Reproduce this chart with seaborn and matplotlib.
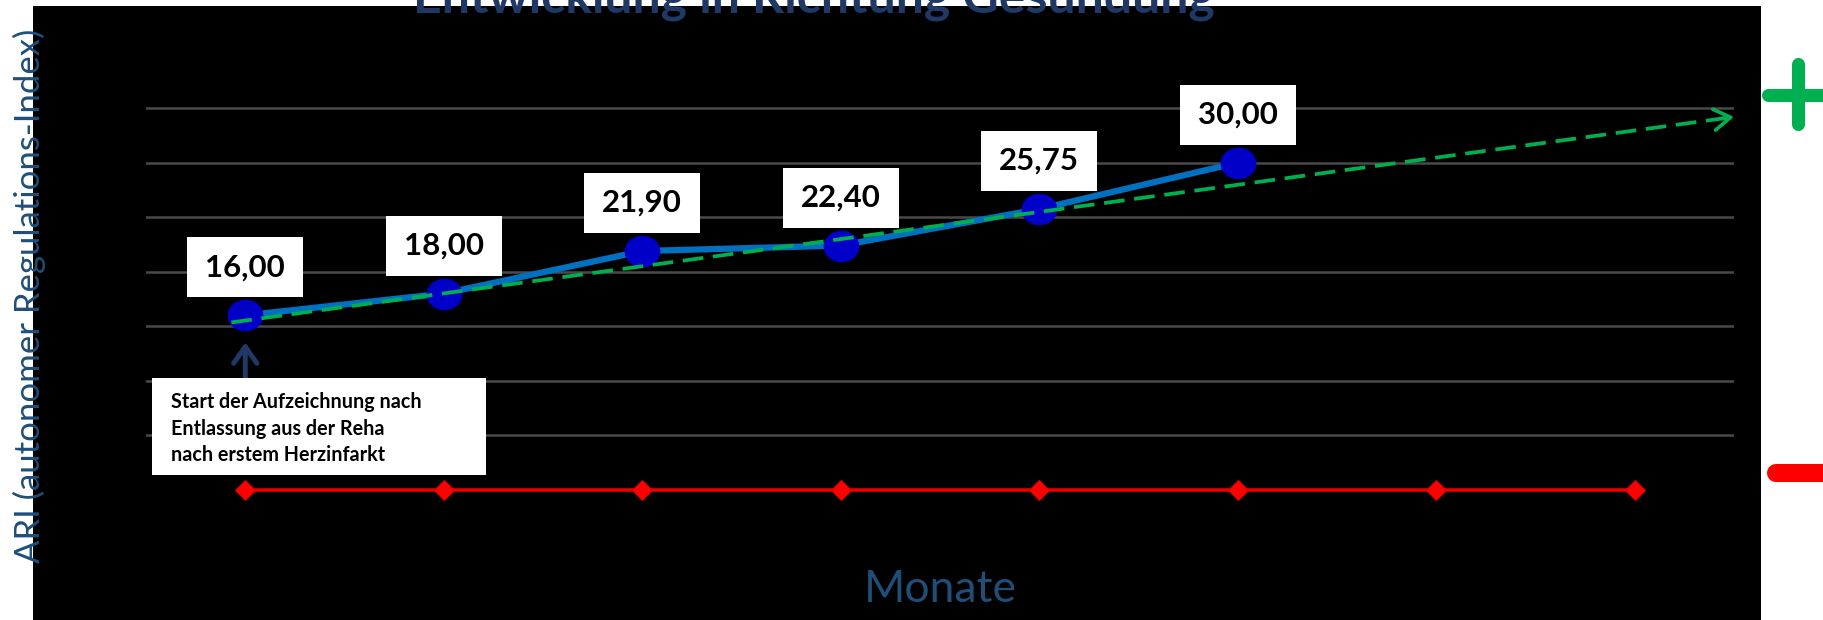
import matplotlib
matplotlib.use("Agg")
import matplotlib.pyplot as plt
import numpy as np
import seaborn as sns
from matplotlib.path import Path
from matplotlib.patches import Rectangle
from matplotlib.lines import Line2D

# ARI readings per month after discharge
months = [0, 1, 2, 3, 4, 5]
ari = [16.00, 18.00, 21.90, 22.40, 25.75, 30.00]
ari_labels = ["16,00", "18,00", "21,90", "22,40", "25,75", "30,00"]

# baseline series across the whole observation period
base_months = [0, 1, 2, 3, 4, 5, 6, 7]
base_values = [0, 0, 0, 0, 0, 0, 0, 0]

# end points of the trend arrow
trend_months = [-0.07, 7.5]
trend_values = [15.35, 34.2]

grid_ticks = [5, 10, 15, 20, 25, 30, 35]

title = "Entwicklung in Richtung Gesundung"
ylabel = "ARI (autonomer Regulations-Index)"
xlabel = "Monate"
note = "Start der Aufzeichnung nach\nEntlassung aus der Reha\nnach erstem Herzinfarkt"

W, H, DPI = 1824, 620, 100
NAVY = "#1F3864"
LABEL_BLUE = "#1F4E79"
GREEN = "#00B050"
RED = "#FF0000"

sns.set_theme(style="dark", rc={"axes.facecolor": "black"})
plt.rcParams["font.family"] = ["Lato", "DejaVu Sans"]


def fx(px):
    return px / W


def fy(py):
    return 1 - py / H


fig = plt.figure(figsize=(W / DPI, H / DPI), dpi=DPI, facecolor="white")

# black chart area
fig.add_artist(Rectangle((fx(33), 0), fx(1761) - fx(33), fy(6),
                         transform=fig.transFigure, facecolor="black",
                         edgecolor="none", zorder=-5))

ax = fig.add_axes([fx(146), 0, fx(1734) - fx(146), fy(6)])
ax.set_facecolor("black")

# slightly flattened round marker
t = np.linspace(0, 2 * np.pi, 60)
ellipse = Path(np.column_stack([np.cos(t), 0.88 * np.sin(t)]), closed=True)

# baseline
sns.lineplot(x=base_months, y=base_values, ax=ax, color="#E60000",
             linewidth=2.6, marker="D", markersize=10.5,
             markerfacecolor=RED, markeredgecolor="#E00000", zorder=3)

# ARI series
sns.lineplot(x=months, y=ari, ax=ax, color="#0070C0", linewidth=4.5,
             marker=ellipse, markersize=25, markerfacecolor="#0000C8",
             markeredgecolor="#0000C8", zorder=4)

# dashed trend with open arrow head
ax.plot(trend_months, trend_values, color=GREEN, linewidth=2.7,
        dashes=(5.5, 2.6), zorder=5)
slope = (trend_values[1] - trend_values[0]) / (trend_months[1] - trend_months[0])
ax.annotate("", xy=(trend_months[1], trend_values[1]),
            xytext=(trend_months[1] - 0.06, trend_values[1] - 0.06 * slope),
            arrowprops=dict(arrowstyle="->,head_length=0.6,head_width=0.38",
                            color=GREEN, lw=2.6, shrinkA=0, shrinkB=0,
                            mutation_scale=20), zorder=5)


# fixed-size white label box centred on the text
def label_box(x0, y0, width, height, mutation_size):
    cx, cy = x0 + width / 2, y0 + height / 2
    w, h = 116, 60
    return Path([(cx - w / 2, cy - h / 2), (cx + w / 2, cy - h / 2),
                 (cx + w / 2, cy + h / 2), (cx - w / 2, cy + h / 2),
                 (cx - w / 2, cy - h / 2)], closed=True)


for m, v, s in zip(months, ari, ari_labels):
    ax.annotate(s, xy=(m, v), xytext=(0, 48), textcoords="offset pixels",
                ha="center", va="center", fontsize=22.5, fontweight="bold",
                color="black", zorder=6,
                bbox=dict(boxstyle=label_box, fc="white", ec="none"))

# note on the first reading
ax.annotate("", xy=(months[0], ari[0]), xytext=(0, -69),
            textcoords="offset pixels",
            arrowprops=dict(arrowstyle="->,head_length=0.6,head_width=0.42",
                            color=NAVY, lw=3.6, shrinkA=0, shrinkB=19.4,
                            mutation_scale=20), zorder=7)
fig.add_artist(Rectangle((fx(152), fy(475)), fx(486) - fx(152), fy(378) - fy(475),
                         transform=fig.transFigure, facecolor="white",
                         edgecolor="none", zorder=6))
fig.text(fx(171), fy(392), note, ha="left", va="top", fontsize=14.2,
         fontweight="bold", color="black", linespacing=1.41, zorder=8)

ax.set_xlim(-0.5, 7.5)
ax.set_ylim(-11.94, 44.37)
ax.set_yticks(grid_ticks)
ax.set_xticks([])
ax.tick_params(left=False, bottom=False, labelleft=False, labelbottom=False)
ax.yaxis.grid(True, color="#4A4A4A", linewidth=1.8)
ax.xaxis.grid(False)
ax.set_axisbelow(True)
for sp in ax.spines.values():
    sp.set_visible(False)
ax.set_xlabel("")
ax.set_ylabel("")

# titles and axis captions
fig.text(fx(814), fy(12.7), title, ha="center", va="baseline", fontsize=36,
         fontweight="bold", color=NAVY, zorder=10)
fig.text(fx(29), fy(296), ylabel, rotation=90, ha="center", va="center",
         fontsize=25, color=LABEL_BLUE, zorder=10)
fig.text(fx(940), fy(602), xlabel, ha="center", va="baseline", fontsize=32,
         color=LABEL_BLUE, zorder=10)

# plus / minus markers at the right edge
fig.add_artist(Line2D([fx(1798), fx(1798)], [fy(64), fy(124)],
                      transform=fig.transFigure, color=GREEN, lw=9.4,
                      solid_capstyle="round"))
fig.add_artist(Line2D([fx(1768), fx(1832)], [fy(95), fy(95)],
                      transform=fig.transFigure, color=GREEN, lw=9.4,
                      solid_capstyle="round"))
fig.add_artist(Line2D([fx(1776), fx(1840)], [fy(473), fy(473)],
                      transform=fig.transFigure, color=RED, lw=13,
                      solid_capstyle="round"))

fig.savefig("out.png", dpi=DPI, facecolor="white")
